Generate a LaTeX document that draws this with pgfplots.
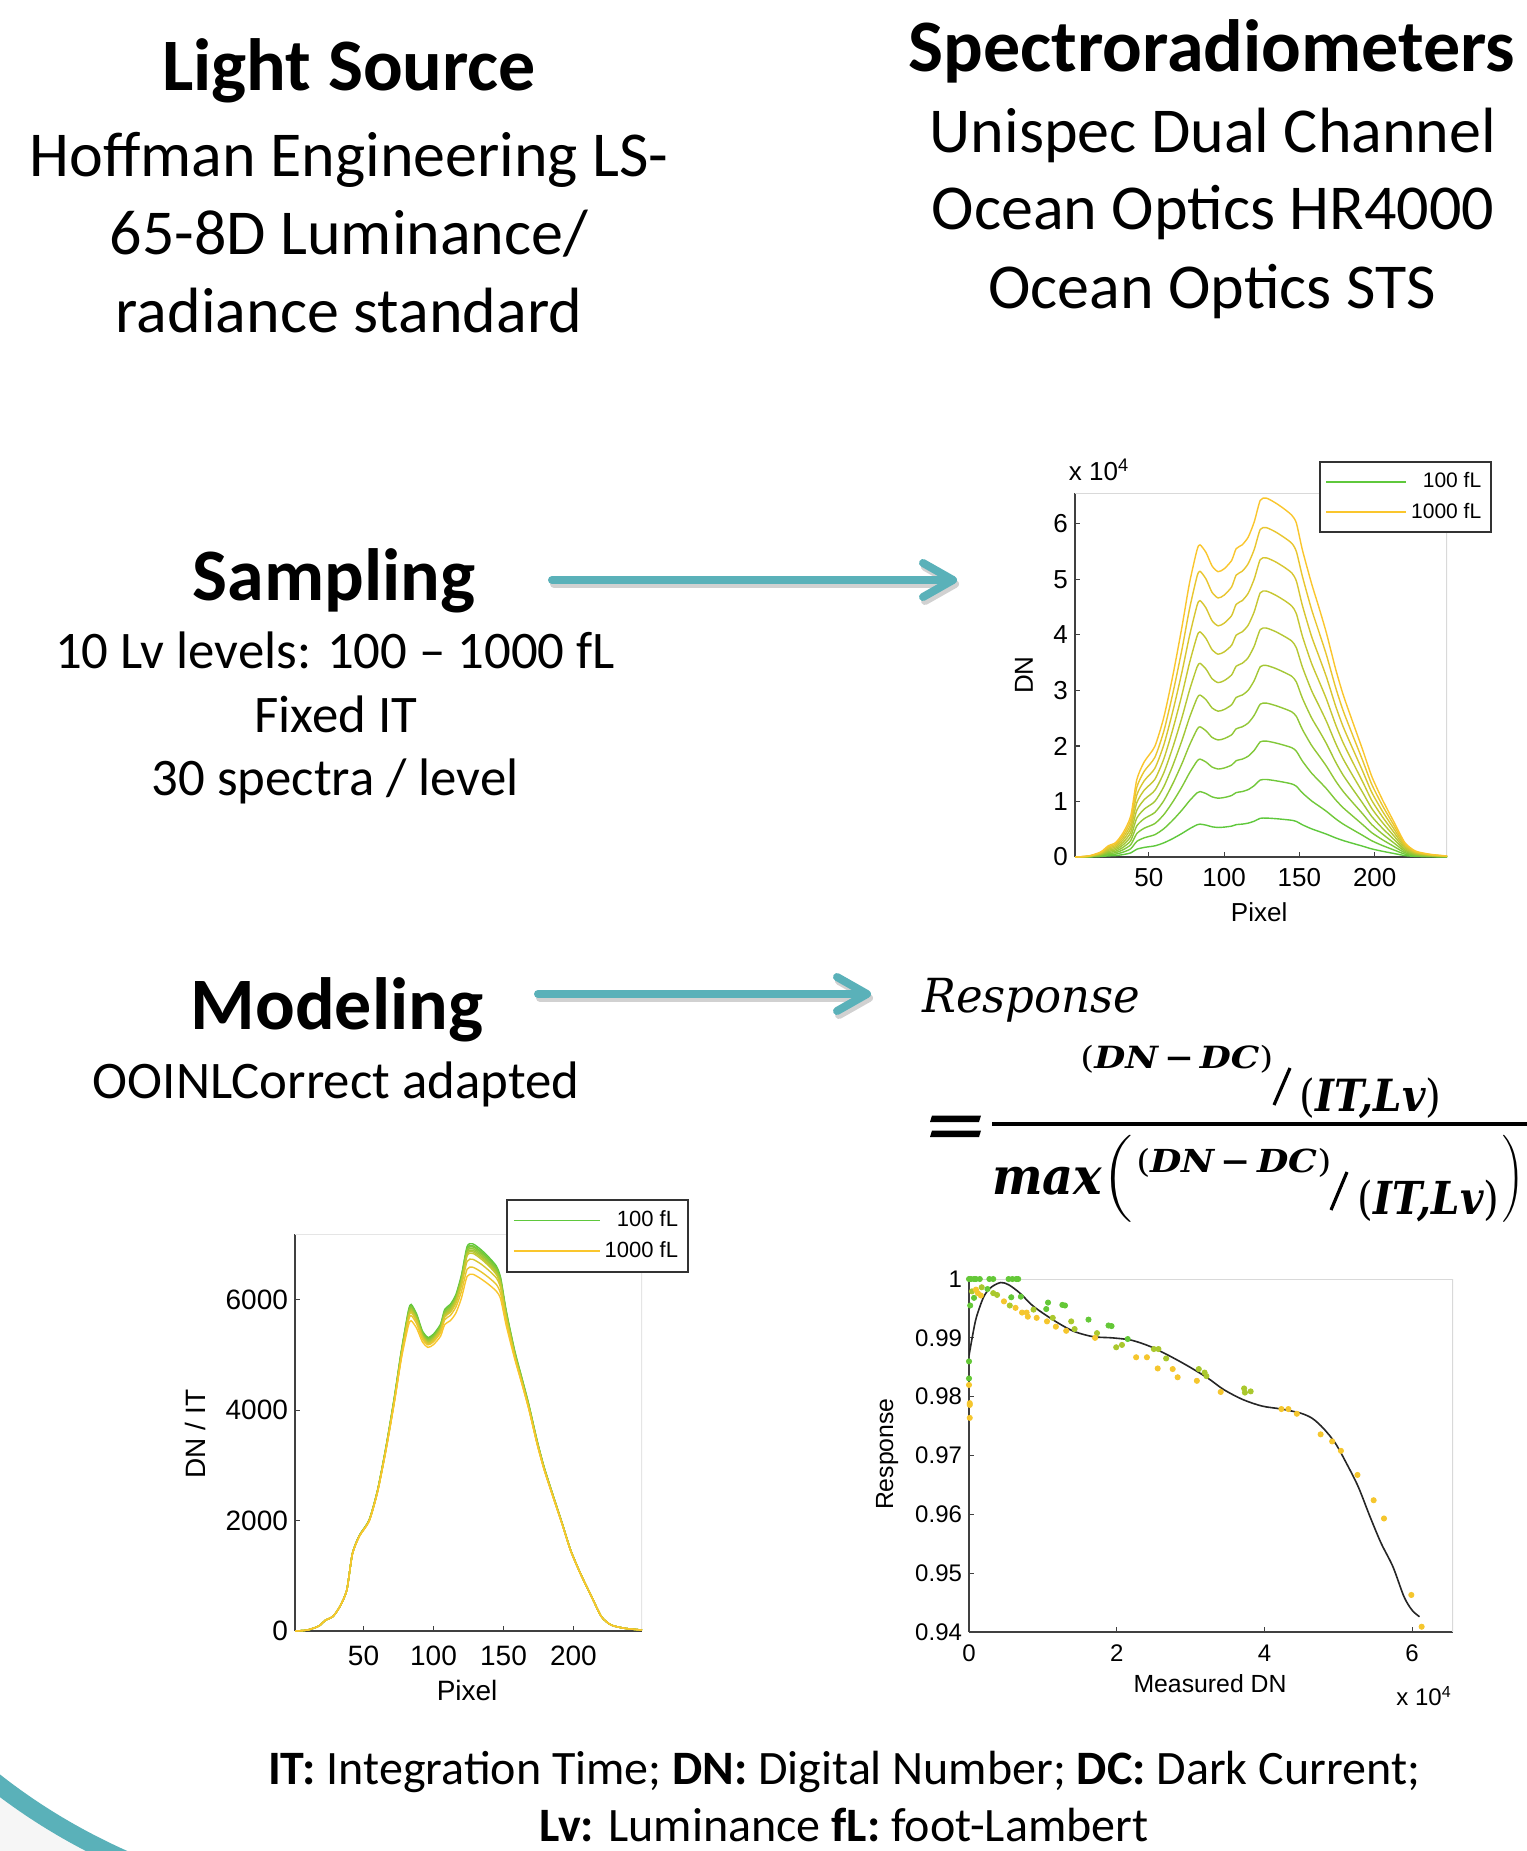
\documentclass[border=0pt]{standalone}
\usepackage[no-math]{fontspec}
\setmainfont{Carlito}
\newfontfamily\arial{Liberation Sans}
\newfontfamily\dserif{DejaVu Serif}
\usepackage{graphicx}
\usepackage{pgfplots}
\pgfplotsset{compat=1.18}
\usepackage{pgfplotstable}
\usetikzlibrary{arrows.meta}

\definecolor{tgreen}{RGB}{95,200,60}
\definecolor{tyellow}{RGB}{250,198,45}
\definecolor{tealc}{RGB}{90,177,185}
\definecolor{slidegray}{RGB}{246,246,246}
\colorlet{c1}{tgreen}
\colorlet{c2}{tyellow!11!tgreen}
\colorlet{c3}{tyellow!22!tgreen}
\colorlet{c4}{tyellow!33!tgreen}
\colorlet{c5}{tyellow!44!tgreen}
\colorlet{c6}{tyellow!56!tgreen}
\colorlet{c7}{tyellow!67!tgreen}
\colorlet{c8}{tyellow!78!tgreen}
\colorlet{c9}{tyellow!89!tgreen}
\colorlet{c10}{tyellow}
\definecolor{pg}{RGB}{100,200,55}
\definecolor{pm}{RGB}{170,200,45}
\definecolor{py}{RGB}{245,198,45}

% Top-right: DN (x 10^4) for the 10 luminance levels
\pgfplotstableread{
px T1 T2 T3 T4 T5 T6 T7 T8 T9 T10
1 0 0 0 0 0 0 0 0 0 0
10 .002 .004 .005 .007 .009 .011 .013 .014 .016 .018
18 .009 .018 .027 .036 .045 .054 .063 .072 .081 .090
23 .020 .040 .060 .080 .100 .120 .140 .160 .180 .200
28 .026 .052 .078 .104 .130 .156 .182 .208 .234 .260
33 .044 .088 .132 .176 .220 .264 .308 .352 .396 .440
38 .074 .148 .222 .296 .370 .444 .518 .591 .665 .739
42 .140 .280 .420 .560 .699 .838 .976 1.114 1.253 1.391
47 .173 .346 .519 .691 .863 1.034 1.205 1.375 1.546 1.716
54 .201 .402 .602 .802 1.001 1.200 1.398 1.596 1.794 1.992
60 .255 .510 .764 1.016 1.268 1.519 1.770 2.022 2.270 2.519
66 .333 .665 .995 1.324 1.652 1.980 2.305 2.630 2.952 3.273
72 .424 .845 1.263 1.681 2.097 2.510 2.920 3.330 3.736 4.142
77 .508 1.012 1.513 2.013 2.509 3.001 3.491 3.978 4.464 4.930
82 .580 1.154 1.726 2.296 2.858 3.418 3.974 4.526 5.051 5.527
84 .592 1.178 1.762 2.344 2.916 3.487 4.054 4.616 5.144 5.620
88 .574 1.142 1.709 2.271 2.831 3.383 3.933 4.482 5.004 5.481
92 .544 1.083 1.620 2.154 2.684 3.210 3.732 4.254 4.765 5.240
96 .532 1.059 1.584 2.107 2.626 3.140 3.652 4.162 4.664 5.137
100 .538 1.071 1.602 2.131 2.655 3.175 3.692 4.209 4.714 5.188
105 .556 1.107 1.655 2.201 2.742 3.279 3.813 4.347 4.863 5.339
108 .583 1.160 1.735 2.308 2.873 3.435 3.994 4.549 5.075 5.551
112 .592 1.178 1.762 2.344 2.916 3.487 4.054 4.616 5.144 5.620
116 .610 1.214 1.815 2.412 3.003 3.591 4.175 4.749 5.282 5.760
120 .645 1.285 1.921 2.552 3.177 3.797 4.417 5.006 5.538 6.034
124 .697 1.386 2.073 2.752 3.426 4.095 4.757 5.355 5.897 6.422
128 .701 1.396 2.087 2.771 3.449 4.122 4.788 5.386 5.930 6.462
134 .691 1.374 2.055 2.728 3.397 4.060 4.717 5.316 5.855 6.377
140 .676 1.345 2.011 2.670 3.324 3.973 4.619 5.216 5.751 6.265
145 .661 1.315 1.967 2.612 3.252 3.886 4.517 5.112 5.646 6.151
148 .640 1.273 1.904 2.530 3.150 3.764 4.379 4.966 5.498 6.011
152 .580 1.154 1.726 2.296 2.858 3.418 3.974 4.526 5.051 5.527
158 .508 1.012 1.513 2.013 2.509 3.001 3.491 3.978 4.464 4.930
163 .460 .917 1.371 1.824 2.278 2.722 3.168 3.610 4.051 4.490
168 .411 .821 1.228 1.633 2.038 2.439 2.839 3.236 3.632 4.026
174 .345 .689 1.031 1.371 1.712 2.051 2.387 2.722 3.056 3.389
179 .297 .594 .888 1.182 1.475 1.768 2.059 2.349 2.638 2.926
185 .249 .498 .746 .992 1.238 1.484 1.729 1.974 2.218 2.460
192 .195 .389 .583 .777 .969 1.162 1.354 1.546 1.737 1.929
198 .146 .293 .439 .585 .731 .876 1.021 1.166 1.310 1.454
205 .104 .208 .313 .417 .521 .625 .728 .831 .934 1.038
213 .062 .124 .186 .248 .310 .372 .434 .496 .558 .619
220 .026 .052 .078 .104 .130 .156 .182 .208 .234 .260
227 .011 .022 .032 .043 .054 .065 .076 .086 .097 .108
237 .005 .010 .014 .019 .024 .029 .034 .038 .043 .048
248 .002 .004 .005 .007 .009 .011 .013 .014 .016 .018
}\tblT

% Bottom-left: DN / IT for the 10 luminance levels
\pgfplotstableread{
px N1 N2 N3 N4 N5 N6 N7 N8 N9 N10
1 0 0 0 0 0 0 0 0 0 0
10 18 18 18 18 18 18 18 18 18 18
18 90 90 90 90 90 90 90 90 90 90
23 200 200 200 200 200 200 200 200 200 200
28 260 260 260 260 260 260 260 260 260 260
33 440 440 440 440 440 440 440 440 440 440
38 740 740 740 740 740 740 740 739 739 739
42 1400 1400 1400 1399 1398 1396 1394 1393 1392 1391
47 1730 1730 1730 1727 1725 1723 1721 1719 1718 1716
54 2010 2010 2008 2005 2002 2000 1997 1995 1993 1992
60 2550 2550 2545 2540 2536 2532 2529 2527 2522 2519
66 3330 3326 3317 3310 3304 3300 3293 3287 3280 3273
72 4235 4223 4211 4202 4194 4183 4172 4162 4151 4142
77 5080 5059 5044 5033 5018 5002 4987 4972 4960 4930
82 5797 5771 5754 5741 5716 5696 5677 5658 5612 5527
84 5916 5890 5872 5860 5832 5812 5792 5770 5715 5620
88 5737 5712 5695 5678 5661 5638 5619 5603 5560 5481
92 5438 5416 5399 5385 5368 5350 5332 5318 5294 5240
96 5318 5297 5281 5268 5251 5234 5217 5203 5182 5137
100 5378 5356 5340 5327 5310 5292 5275 5261 5238 5188
105 5557 5534 5517 5503 5484 5466 5447 5433 5404 5339
108 5826 5801 5783 5771 5745 5725 5706 5687 5638 5551
112 5916 5890 5872 5860 5832 5812 5792 5770 5715 5620
116 6095 6068 6049 6029 6007 5984 5965 5937 5869 5760
120 6452 6423 6403 6379 6354 6329 6310 6257 6154 6034
124 6965 6931 6909 6880 6851 6825 6796 6694 6552 6422
128 7013 6979 6957 6927 6897 6870 6840 6732 6589 6462
134 6905 6871 6850 6821 6794 6766 6739 6645 6505 6377
140 6756 6724 6703 6676 6648 6622 6599 6520 6390 6265
145 6605 6575 6555 6529 6503 6476 6453 6390 6273 6151
148 6396 6366 6347 6324 6299 6274 6256 6208 6109 6011
152 5797 5771 5754 5741 5716 5696 5677 5658 5612 5527
158 5080 5059 5044 5033 5018 5002 4987 4972 4960 4930
163 4600 4584 4571 4561 4555 4537 4525 4512 4501 4490
168 4114 4103 4092 4083 4076 4065 4055 4045 4035 4026
174 3450 3445 3436 3428 3423 3418 3410 3403 3396 3389
179 2970 2968 2961 2955 2950 2946 2942 2936 2931 2926
185 2490 2490 2485 2480 2476 2473 2470 2468 2464 2460
192 1946 1946 1945 1942 1939 1936 1934 1932 1930 1929
198 1464 1464 1464 1463 1461 1460 1458 1457 1455 1454
205 1042 1042 1042 1042 1042 1041 1040 1039 1038 1038
213 620 620 620 620 620 620 620 620 620 619
220 260 260 260 260 260 260 260 260 260 260
227 108 108 108 108 108 108 108 108 108 108
237 48 48 48 48 48 48 48 48 48 48
249 18 18 18 18 18 18 18 18 18 18
}\tblN

% Bottom-right: response vs measured DN (x 10^4)
\pgfplotstableread{
x y
0 0.9870
0.05 0.9905
0.10 0.9935
0.20 0.9970
0.30 0.9986
0.43 0.9994
0.54 0.9990
0.69 0.9976
0.85 0.9956
1.00 0.9942
1.21 0.9925
1.42 0.9911
1.68 0.9902
1.94 0.9900
2.20 0.9896
2.46 0.9885
2.72 0.9869
2.98 0.9851
3.24 0.9831
3.45 0.9812
3.71 0.9795
3.97 0.9784
4.23 0.9779
4.49 0.9772
4.65 0.9763
4.80 0.9746
4.96 0.9721
5.11 0.9687
5.27 0.9647
5.43 0.9596
5.58 0.9551
5.74 0.9511
5.89 0.9460
6.00 0.9437
6.10 0.9426
}\tblFit

\pgfplotstableread{
x y
0 1
0.026 1
0.068 1
0.094 1
0.146 1
0.276 1
0.328 1
0.536 1
0.588 1
0.640 1
0.666 1
0.016 0.9955
0.068 0.9968
0.250 0.9983
0.572 0.9969
0.702 0.9970
1.046 0.9949
1.070 0.9960
1.264 0.9956
1.300 0.9955
1.618 0.9931
1.889 0.9921
1.930 0.9920
2.149 0.9898
0 0.9860
0 0.9831
}\tblG

\pgfplotstableread{
x y
0.040 0.9979
0.172 0.9986
0.328 0.9976
0.380 0.9973
0.552 0.9955
0.874 0.9948
1.134 0.9934
1.384 0.9928
1.430 0.9915
1.733 0.9908
1.993 0.9884
2.071 0.9888
2.503 0.9881
2.565 0.9881
2.669 0.9865
3.111 0.9847
3.190 0.9841
3.215 0.9835
3.725 0.9814
3.736 0.9807
3.814 0.9809
}\tblM

\pgfplotstableread{
x y
0.094 0.9982
0.120 0.9976
0.161 0.9972
0.473 0.9962
0.630 0.9951
0.718 0.9943
0.780 0.9943
0.796 0.9936
0.916 0.9934
1.056 0.9928
1.176 0.9919
1.316 0.9912
1.707 0.9900
2.263 0.9867
2.409 0.9867
2.555 0.9848
2.758 0.9847
2.825 0.9833
3.085 0.9827
3.408 0.9808
4.230 0.9779
4.324 0.9779
4.439 0.9771
4.761 0.9736
4.917 0.9724
5.036 0.9708
5.260 0.9667
5.479 0.9624
5.619 0.9593
5.989 0.9463
6.129 0.9409
0 0.9820
0.010 0.9789
0.010 0.9786
0.010 0.9764
}\tblY

\pgfplotsset{
  matlab/.style={
    scale only axis,
    axis lines=left,
    axis line style={-, draw=black!75, line width=0.9pt},
    tick align=inside,
    major tick length=2.5pt,
    tick style={black!75, line width=0.6pt},
    enlargelimits=false,
    /pgf/number format/assume math mode=true,
    /pgf/number format/1000 sep={},
    scaled ticks=false,
    legend cell align=right,
  },
  spec/.style={line width=0.7pt, smooth, tension=0.4},
}
\newcommand{\fb}[1]{{\dserif\bfseries\itshape #1}}
\newcommand{\fu}[1]{{\dserif #1}}

\begin{document}
\begin{tikzpicture}
\begin{scope}[x=0.5pt,y=-0.5pt]
\path[use as bounding box] (0,0) rectangle (1526,1851);
\fill[white] (0,0) rectangle (1526,1851);

% corner decoration
\fill[slidegray] (-10,1778) .. controls (30,1810) and (75,1838) .. (130,1862) -- (-10,1862) -- cycle;
\draw[tealc, line width=9pt] (-10,1778) .. controls (30,1810) and (75,1838) .. (130,1862);

% headings and text
\node[anchor=base, inner sep=0, font=\fontsize{37}{44}\selectfont\bfseries] at (349,91) {Light Source};
\node[anchor=base, inner sep=0, font=\fontsize{32}{38}\selectfont] at (349,177) {Hoffman Engineering LS-};
\node[anchor=base, inner sep=0, font=\fontsize{32}{38}\selectfont] at (349,255) {65-8D Luminance/};
\node[anchor=base, inner sep=0, font=\fontsize{32}{38}\selectfont] at (349,332) {radiance standard};

\node[anchor=base, inner sep=0, font=\fontsize{37}{44}\selectfont\bfseries] at (1212,72) {Spectroradiometers};
\node[anchor=base, inner sep=0, font=\fontsize{32}{38}\selectfont] at (1213,153) {Unispec Dual Channel};
\node[anchor=base, inner sep=0, font=\fontsize{32}{38}\selectfont] at (1213,230) {Ocean Optics HR4000};
\node[anchor=base, inner sep=0, font=\fontsize{32}{38}\selectfont] at (1212,308) {Ocean Optics STS};

\node[anchor=base, inner sep=0, font=\fontsize{37}{44}\selectfont\bfseries] at (334,600) {Sampling};
\node[anchor=base, inner sep=0, font=\fontsize{26.4}{32}\selectfont] at (335,668) {10 Lv levels: 100 – 1000 fL};
\node[anchor=base, inner sep=0, font=\fontsize{26.4}{32}\selectfont] at (336,732) {Fixed IT};
\node[anchor=base, inner sep=0, font=\fontsize{26.4}{32}\selectfont] at (335,795) {30 spectra / level};

\node[anchor=base, inner sep=0, font=\fontsize{37}{44}\selectfont\bfseries] at (337,1029) {Modeling};
\node[anchor=base, inner sep=0, font=\fontsize{26.4}{32}\selectfont] at (336,1098) {OOINLCorrect adapted};

\node[anchor=base, inner sep=0, font=\fontsize{24}{29}\selectfont] at (844,1784) {\textbf{IT:} Integration Time; \textbf{DN:} Digital Number; \textbf{DC:} Dark Current;};
\node[anchor=base, inner sep=0, font=\fontsize{24}{29}\selectfont] at (844,1841) {\textbf{Lv:} Luminance \textbf{fL:} foot-Lambert};

% arrows
\draw[black!18, line width=4pt, line cap=round, -{Straight Barb[length=15pt,width=17pt,round]}] (554,584) -- (959,584);
\draw[tealc, line width=4pt, line cap=round, -{Straight Barb[length=15pt,width=17pt,round]}] (552,580) -- (957,580);
\draw[black!18, line width=4pt, line cap=round, -{Straight Barb[length=15pt,width=17pt,round]}] (540,998) -- (873,998);
\draw[tealc, line width=4pt, line cap=round, -{Straight Barb[length=15pt,width=17pt,round]}] (538,994) -- (871,994);

% formula
\node[anchor=north west, inner sep=0] at (922,978) {\resizebox*{109pt}{22pt}{\dserif\itshape Response}};
\fill (932,1115.5) -- (981,1115.5) -- (979,1122) -- (930,1122) -- cycle;
\fill (932,1130.5) -- (981,1130.5) -- (979,1137) -- (930,1137) -- cycle;
\fill (992,1122) rectangle (1530,1126);
\node[anchor=north west, inner sep=0] at (1080,1045) {\resizebox*{96.5pt}{14pt}{\fu{(}\fb{DN\,−\,DC}\fu{)}}};
\draw[line width=1.6pt] (1274,1105) -- (1290,1068);
\node[anchor=north west, inner sep=0] at (1299,1077) {\resizebox*{71pt}{20.5pt}{\fu{(}\fb{IT,Lv}\fu{)}}};
\node[anchor=north west, inner sep=0] at (992,1167) {\resizebox*{55pt}{14pt}{\fb{max}}};
\node[anchor=north west, inner sep=0] at (1102,1135) {\resizebox*{15pt}{43.5pt}{$\Bigg($}};
\node[anchor=north west, inner sep=0] at (1136,1148) {\resizebox*{97.5pt}{14.5pt}{\fu{(}\fb{DN\,−\,DC}\fu{)}}};
\draw[line width=1.6pt] (1331,1210) -- (1347,1172);
\node[anchor=north west, inner sep=0] at (1357,1180) {\resizebox*{71pt}{21pt}{\fu{(}\fb{IT,Lv}\fu{)}}};
\node[anchor=north west, inner sep=0] at (1502,1135) {\resizebox*{11pt}{43.5pt}{$\Bigg)$}};

% multiplier labels
\node[anchor=center, inner sep=0, font=\arial\fontsize{13}{15}\selectfont] at (1099,470) {x 10\textsuperscript{4}};
\node[anchor=center, inner sep=0, font=\arial\fontsize{12}{14}\selectfont] at (1424,1696) {x 10\textsuperscript{4}};
\end{scope}

% ---------- top-right spectra ----------
\begin{axis}[matlab,
  at={(537.5pt,-428.5pt)}, anchor=south west,
  width=186pt, height=182pt,
  xmin=1, xmax=248, ymin=0, ymax=6.5535,
  xtick={50,100,150,200}, ytick={0,1,2,3,4,5,6},
  tick label style={font=\arial\fontsize{13}{15}\selectfont},
  xticklabel style={yshift=-2pt},
  label style={font=\arial\fontsize{13}{15}\selectfont},
  xlabel={Pixel}, ylabel={DN},
  xlabel style={at={(axis description cs:0.495,-0.151)}, anchor=center},
  ylabel style={at={(axis description cs:-0.137,0.5)}, anchor=center},
  legend style={at={(1.121,1.088)}, anchor=north east, draw=black!80, line width=0.8pt, fill=white,
    font=\arial\fontsize{10.5}{12}\selectfont, inner xsep=3pt, inner ysep=3.5pt, row sep=2pt},
  legend image code/.code={\draw[#1, line width=0.7pt] (0pt,0pt) -- (40pt,0pt);},
]
\draw[black!15, line width=0.6pt] (rel axis cs:0,1) -- (rel axis cs:1,1) -- (rel axis cs:1,0);
\addplot[spec, c1] table[x=px, y=T1] {\tblT};
\addlegendentry{100 fL}
\addplot[spec, c2, forget plot] table[x=px, y=T2] {\tblT};
\addplot[spec, c3, forget plot] table[x=px, y=T3] {\tblT};
\addplot[spec, c4, forget plot] table[x=px, y=T4] {\tblT};
\addplot[spec, c5, forget plot] table[x=px, y=T5] {\tblT};
\addplot[spec, c6, forget plot] table[x=px, y=T6] {\tblT};
\addplot[spec, c7, forget plot] table[x=px, y=T7] {\tblT};
\addplot[spec, c8, forget plot] table[x=px, y=T8] {\tblT};
\addplot[spec, c9, forget plot] table[x=px, y=T9] {\tblT};
\addplot[spec, c10] table[x=px, y=T10] {\tblT};
\addlegendentry{1000 fL}
\end{axis}

% ---------- bottom-left DN/IT ----------
\begin{axis}[matlab,
  at={(147.5pt,-815.5pt)}, anchor=south west,
  width=173.5pt, height=198.5pt,
  xmin=1, xmax=249, ymin=0, ymax=7190,
  xtick={50,100,150,200}, ytick={0,2000,4000,6000},
  tick label style={font=\arial\fontsize{14}{16}\selectfont},
  xticklabel style={yshift=-4pt},
  label style={font=\arial\fontsize{14}{16}\selectfont},
  xlabel={Pixel}, ylabel={DN / IT},
  xlabel style={at={(axis description cs:0.496,-0.149)}, anchor=center},
  ylabel style={at={(axis description cs:-0.288,0.496)}, anchor=center},
  legend style={at={(1.135,1.088)}, anchor=north east, draw=black!80, line width=0.8pt, fill=white,
    font=\arial\fontsize{11}{13}\selectfont, inner xsep=3pt, inner ysep=3.5pt, row sep=2pt},
  legend image code/.code={\draw[#1, line width=0.8pt] (0pt,0pt) -- (43pt,0pt);},
]
\draw[black!10, line width=0.6pt] (rel axis cs:0,1) -- (rel axis cs:1,1) -- (rel axis cs:1,0);
\addplot[spec, c1] table[x=px, y=N1] {\tblN};
\addlegendentry{100 fL}
\addplot[spec, c2, forget plot] table[x=px, y=N2] {\tblN};
\addplot[spec, c3, forget plot] table[x=px, y=N3] {\tblN};
\addplot[spec, c4, forget plot] table[x=px, y=N4] {\tblN};
\addplot[spec, c5, forget plot] table[x=px, y=N5] {\tblN};
\addplot[spec, c6, forget plot] table[x=px, y=N6] {\tblN};
\addplot[spec, c7, forget plot] table[x=px, y=N7] {\tblN};
\addplot[spec, c8, forget plot] table[x=px, y=N8] {\tblN};
\addplot[spec, c9, forget plot] table[x=px, y=N9] {\tblN};
\addplot[spec, c10] table[x=px, y=N10] {\tblN};
\addlegendentry{1000 fL}
\end{axis}

% ---------- bottom-right response ----------
\begin{axis}[matlab,
  at={(484.5pt,-816pt)}, anchor=south west,
  width=242pt, height=176.5pt,
  xmin=0, xmax=6.5535, ymin=0.94, ymax=1,
  xtick={0,2,4,6}, ytick={0.94,0.95,0.96,0.97,0.98,0.99,1},
  yticklabels={0.94,0.95,0.96,0.97,0.98,0.99,1},
  tick label style={font=\arial\fontsize{12}{14}\selectfont},
  xticklabel style={yshift=-3pt},
  label style={font=\arial\fontsize{12.4}{14}\selectfont},
  xlabel={Measured DN}, ylabel={Response},
  xlabel style={at={(axis description cs:0.498,-0.147)}, anchor=center},
  ylabel style={at={(axis description cs:-0.169,0.504)}, anchor=center},
]
\draw[black!15, line width=0.6pt] (rel axis cs:0,1) -- (rel axis cs:1,1) -- (rel axis cs:1,0);
\addplot[only marks, pg, mark=*, mark size=1.3pt, mark options={draw=pg, fill=pg}] table[x=x, y=y] {\tblG};
\addplot[only marks, pm, mark=*, mark size=1.3pt, mark options={draw=pm, fill=pm}] table[x=x, y=y] {\tblM};
\addplot[only marks, py, mark=*, mark size=1.3pt, mark options={draw=py, fill=py}] table[x=x, y=y] {\tblY};
\addplot[black!85, line width=0.8pt, smooth, tension=0.5] table[x=x, y=y] {\tblFit};
\end{axis}
\end{tikzpicture}
\end{document}
